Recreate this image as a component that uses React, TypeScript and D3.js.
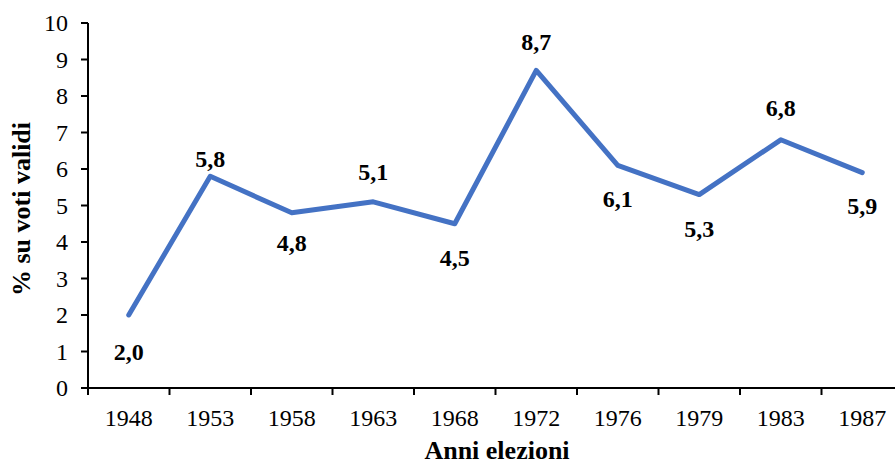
import React from "react";
import * as d3 from "d3";

const categories = ["1948", "1953", "1958", "1963", "1968", "1972", "1976", "1979", "1983", "1987"];
const values = [2.0, 5.8, 4.8, 5.1, 4.5, 8.7, 6.1, 5.3, 6.8, 5.9];
const labelTexts = ["2,0", "5,8", "4,8", "5,1", "4,5", "8,7", "6,1", "5,3", "6,8", "5,9"];
const yTicks = [0, 1, 2, 3, 4, 5, 6, 7, 8, 9, 10];
// label vertical offsets (styling)
const labelDy = [37, -18, 30, -30, 34, -29, 33, 34, -32, 33];

const W = 895;
const H = 464;
const left = 88;
const right = 903;
const top = 23;
const bottom = 388;
const font = '"Liberation Serif"';

export default function App() {
  const x = d3.scaleBand<string>().domain(categories).range([left, right]).padding(0);
  const y = d3.scaleLinear().domain([0, 10]).range([bottom, top]);
  const line = d3
    .line<number>()
    .x((_, i) => (x(categories[i]) as number) + x.bandwidth() / 2)
    .y((d) => y(d));
  const boundaries = d3.range(categories.length + 1).map((i) => left + i * x.bandwidth());

  return (
    <svg width={W} height={H} style={{ position: "absolute", left: 0, top: 0, background: "#fff" }}>
      <rect x={0} y={0} width={W} height={H} fill="#fff" />
      {/* y axis */}
      <line x1={left} x2={left} y1={top} y2={bottom} stroke="#000" strokeWidth={2} />
      {yTicks.map((t) => (
        <g key={t}>
          <line x1={left - 7} x2={left} y1={y(t)} y2={y(t)} stroke="#000" strokeWidth={2} />
          <text x={68} y={y(t)} dy="0.35em" textAnchor="end" style={{ fontFamily: font }} fontSize={24} fill="#000">
            {t}
          </text>
        </g>
      ))}
      {/* x axis */}
      <line x1={left} x2={right} y1={bottom} y2={bottom} stroke="#000" strokeWidth={2} />
      {boundaries.map((b, i) => (
        <line key={i} x1={b} x2={b} y1={bottom} y2={bottom + 7} stroke="#000" strokeWidth={2} />
      ))}
      {categories.map((c) => (
        <text
          key={c}
          x={(x(c) as number) + x.bandwidth() / 2}
          y={426}
          textAnchor="middle"
          style={{ fontFamily: font }}
          fontSize={24}
          fill="#000"
        >
          {c}
        </text>
      ))}
      {/* titles */}
      <text x={497} y={459} textAnchor="middle" style={{ fontFamily: font }} fontSize={26} fontWeight="bold" fill="#000">
        Anni elezioni
      </text>
      <text
        transform={`translate(30,209) rotate(-90)`}
        textAnchor="middle"
        style={{ fontFamily: font }}
        fontSize={26}
        fontWeight="bold"
        fill="#000"
      >
        % su voti validi
      </text>
      {/* line */}
      <path
        d={line(values) as string}
        fill="none"
        stroke="#4472C4"
        strokeWidth={5}
        strokeLinejoin="round"
        strokeLinecap="round"
      />
      {/* labels */}
      {values.map((v, i) => (
        <text
          key={i}
          x={(x(categories[i]) as number) + x.bandwidth() / 2}
          y={y(v) + labelDy[i]}
          dy="0.35em"
          textAnchor="middle"
          style={{ fontFamily: font }}
          fontSize={24}
          fontWeight="bold"
          fill="#000"
        >
          {labelTexts[i]}
        </text>
      ))}
    </svg>
  );
}
